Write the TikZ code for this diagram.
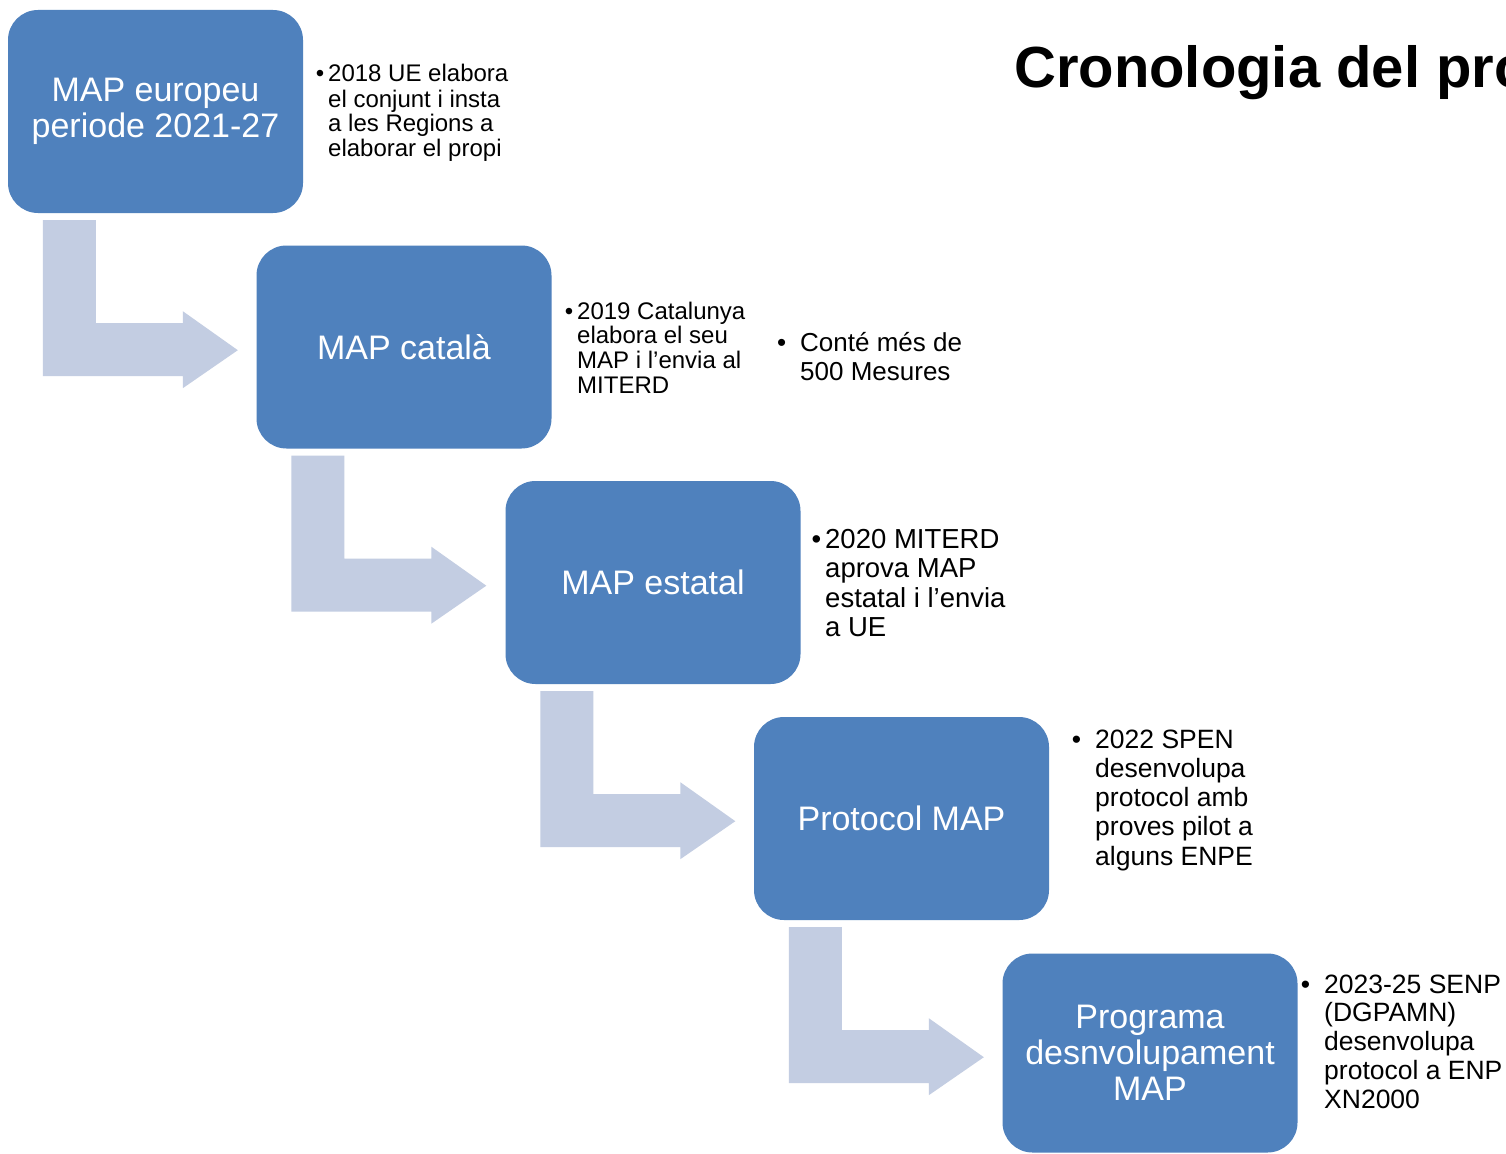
\documentclass[tikz,border=0pt]{standalone}
\usepackage{fontspec}
\setmainfont{Liberation Sans}
\usetikzlibrary{calc}
\definecolor{boxblue}{RGB}{79,129,189}
\definecolor{arrowgray}{RGB}{195,205,226}
\newcommand\mybullet[1]{\llap{\char"2022\kern#1}}
\begin{document}
\begin{tikzpicture}[x=1pt,y=-1pt,
  stage/.style={fill=boxblue, draw=none, rounded corners=30pt, minimum width=295pt,
    minimum height=203pt, text=white, align=center,
    font=\fontsize{34}{36}\selectfont, inner sep=0pt},
  note/.style={anchor=base west, inner sep=0pt, text=black},
  bentarrow/.style={fill=arrowgray, draw=none}]
\useasboundingbox (0,0) rectangle (1506,1153);
\clip (0,0) rectangle (1506,1153);
\fill[white] (0,0) rectangle (1506,1153);

\node[anchor=base west, inner sep=0pt, font=\fontsize{58}{58}\selectfont\bfseries] (title) at (1014,88) {Cronologia del pro};

\node[stage] (b1) at (155.5,111.5) {MAP europeu\\periode 2021-27};
\node[stage] (b2) at (404,347) {MAP català};
\node[stage] (b3) at (653,582.5) {MAP estatal};
\node[stage] (b4) at (901.5,818.5) {Protocol MAP};
\node[stage, minimum height=199pt] (b5) at (1150,1053) {Programa\\desnvolupament\\MAP};

\foreach \a/\b in {b1/b2,b2/b3,b3/b4,b4/b5}{
  \fill[bentarrow] ($(\a.south west)+(35,7)$) -- ++(53,0) -- ++(0,103) -- ++(87,0)
    -- ++(0,-12) -- ++(55,39) -- ++(-55,38) -- ++(0,-12) -- ++(-140,0) -- cycle;
}

\node[note] (n1) at (328,82) {\fontsize{24}{25}\selectfont\vtop{%
  \hbox{\mybullet{4pt}2018 UE elabora}\hbox{el conjunt i insta}\hbox{a les Regions a}\hbox{elaborar el propi}}};
\node[note] (n2) at (577,319) {\fontsize{24}{24.7}\selectfont\vtop{%
  \hbox{\mybullet{4pt}2019 Catalunya}\hbox{elabora el seu}\hbox{MAP i l’envia al}\hbox{MITERD}}};
\node[note] (n2b) at (800,351) {\fontsize{26}{29}\selectfont\vtop{%
  \hbox{\mybullet{14pt}Conté més de}\hbox{500 Mesures}}};
\node[note] (n3) at (825,548) {\fontsize{27.5}{29.5}\selectfont\vtop{%
  \hbox{\mybullet{4pt}2020 MITERD}\hbox{aprova MAP}\hbox{estatal i l’envia}\hbox{a UE}}};
\node[note] (n4) at (1095,748) {\fontsize{26.5}{29.3}\selectfont\vtop{%
  \hbox{\mybullet{14pt}2022 SPEN}\hbox{desenvolupa}\hbox{protocol amb}\hbox{proves pilot a}\hbox{alguns ENPE}}};
\node[note] (n5) at (1324,993) {\fontsize{26.5}{28.8}\selectfont\vtop{%
  \hbox{\mybullet{14pt}2023-25 SENP}\hbox{(DGPAMN)}\hbox{desenvolupa}\hbox{protocol a ENP}\hbox{XN2000}}};
\end{tikzpicture}
\end{document}
